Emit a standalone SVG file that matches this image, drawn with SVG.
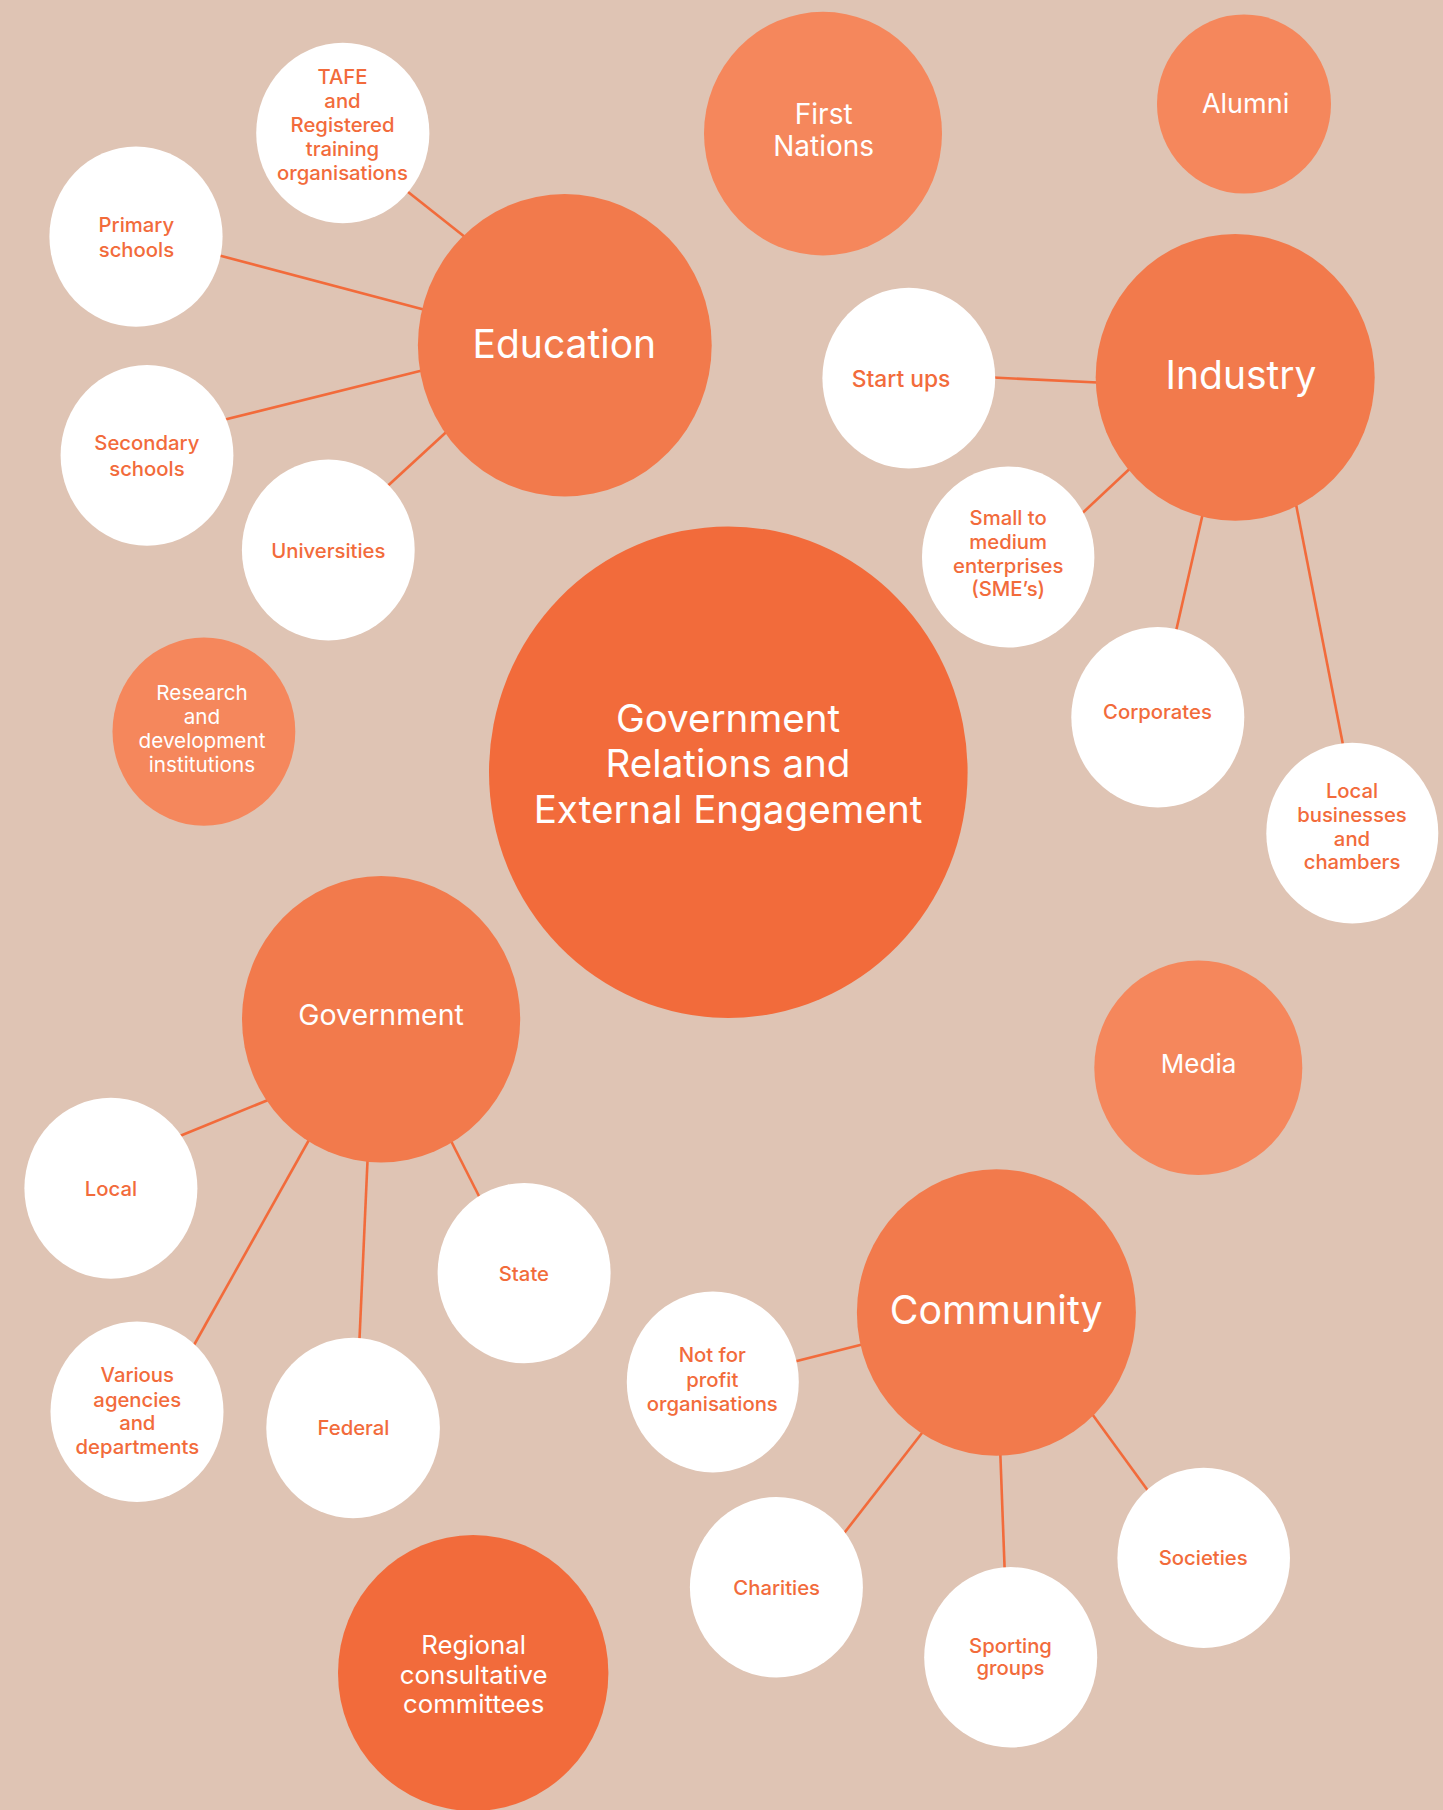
<svg xmlns="http://www.w3.org/2000/svg" width="1443" height="1810" viewBox="0 0 1443 1810">
<style>
.c1{fill:#F26B3B}
.c2{fill:#F27A4C}
.c3{fill:#F5875C}
.w{fill:#FFFFFF}
.lk{stroke:#F26B3B;stroke-width:2.6;fill:none;stroke-linecap:butt}
text{font-family:Inter,"Noto Sans","Liberation Sans",sans-serif;text-anchor:middle}
.tw{fill:#FFFFFF}
.to{fill:#F26B3B;font-size:20.3px;font-weight:500}
.tbig{font-size:39px}
.tmid{font-size:28.5px}
.tsm{font-size:20.7px}
</style>
<rect width="1443" height="1810" fill="#DFC4B4"/>
<g id="connectors">
<line class="lk" x1="398" y1="184" x2="475" y2="245"/>
<line class="lk" x1="210" y1="253" x2="433" y2="312"/>
<line class="lk" x1="215" y1="422" x2="432" y2="368"/>
<line class="lk" x1="380" y1="493" x2="455" y2="424"/>
<line class="lk" x1="983" y1="377" x2="1108" y2="383"/>
<line class="lk" x1="1074" y1="521" x2="1138" y2="461"/>
<line class="lk" x1="1205" y1="504" x2="1174" y2="640"/>
<line class="lk" x1="1294" y1="494" x2="1345" y2="755"/>
<line class="lk" x1="170" y1="1140" x2="278" y2="1096"/>
<line class="lk" x1="189" y1="1354" x2="314" y2="1131"/>
<line class="lk" x1="359" y1="1350" x2="368" y2="1150"/>
<line class="lk" x1="484" y1="1206" x2="447" y2="1133"/>
<line class="lk" x1="785" y1="1364" x2="872" y2="1342"/>
<line class="lk" x1="838" y1="1541" x2="929" y2="1424"/>
<line class="lk" x1="1005" y1="1579" x2="1000" y2="1445"/>
<line class="lk" x1="1154" y1="1499" x2="1087" y2="1407"/>
</g>
<g id="center">
<ellipse class="c1" cx="728.3" cy="772.2" rx="239.3" ry="245.8"/>
<text class="tw" font-size="38.6"><tspan x="728" y="732">Government</tspan><tspan x="728" y="777">Relations and</tspan><tspan x="728" y="823">External Engagement</tspan></text>
</g>
<g id="education">
<ellipse class="c2" cx="564.8" cy="345.2" rx="146.9" ry="151.2"/>
<text class="tw tbig" x="564.3" y="357.5">Education</text>
</g>
<g id="industry">
<ellipse class="c2" cx="1235.2" cy="377.3" rx="139.5" ry="143.4"/>
<text class="tw tbig" x="1241" y="389">Industry</text>
</g>
<g id="government">
<ellipse class="c2" cx="381.1" cy="1019.3" rx="139.1" ry="143.2"/>
<text class="tw tmid" x="381.1" y="1024.5">Government</text>
</g>
<g id="community">
<ellipse class="c2" cx="996.4" cy="1312.5" rx="139.5" ry="143.2"/>
<text class="tw" font-size="39.3" x="996.2" y="1323.5">Community</text>
</g>
<g id="first-nations">
<ellipse class="c3" cx="823" cy="133.6" rx="119" ry="121.8"/>
<text class="tw" font-size="28"><tspan x="823.7" y="123.5">First</tspan><tspan x="823.7" y="155.5">Nations</tspan></text>
</g>
<g id="alumni">
<ellipse class="c3" cx="1244" cy="104" rx="87" ry="89.6"/>
<text class="tw" font-size="27" x="1245.6" y="113.2">Alumni</text>
</g>
<g id="research">
<ellipse class="c3" cx="203.9" cy="731.6" rx="91.4" ry="94.1"/>
<text class="tw tsm"><tspan x="202" y="700.4">Research</tspan><tspan x="202" y="724.3">and</tspan><tspan x="202" y="748.2">development</tspan><tspan x="202" y="772.2">institutions</tspan></text>
</g>
<g id="media">
<ellipse class="c3" cx="1198.3" cy="1067.8" rx="104" ry="107.3"/>
<text class="tw" font-size="26" x="1198.6" y="1072.5">Media</text>
</g>
<g id="regional">
<ellipse class="c1" cx="473.2" cy="1673" rx="135.2" ry="138"/>
<text class="tw" font-size="25.8"><tspan x="473.6" y="1654">Regional</tspan><tspan x="473.6" y="1684">consultative</tspan><tspan x="473.6" y="1713">committees</tspan></text>
</g>
<g id="tafe">
<ellipse class="w" cx="342.8" cy="133" rx="86.6" ry="90.2"/>
<text class="to"><tspan x="342.5" y="84">TAFE</tspan><tspan x="342.5" y="108">and</tspan><tspan x="342.5" y="132">Registered</tspan><tspan x="342.5" y="156">training</tspan><tspan x="342.5" y="180">organisations</tspan></text>
</g>
<g id="primary">
<ellipse class="w" cx="136" cy="236.6" rx="86.6" ry="90.2"/>
<text class="to"><tspan x="136.4" y="232">Primary</tspan><tspan x="136.4" y="257">schools</tspan></text>
</g>
<g id="secondary">
<ellipse class="w" cx="147" cy="455.4" rx="86.4" ry="90.4"/>
<text class="to"><tspan x="146.9" y="450">Secondary</tspan><tspan x="146.9" y="476">schools</tspan></text>
</g>
<g id="universities">
<ellipse class="w" cx="328.3" cy="550" rx="86.4" ry="90.5"/>
<text class="to" x="328.3" y="557.5">Universities</text>
</g>
<g id="start-ups">
<ellipse class="w" cx="908.8" cy="378.2" rx="86.4" ry="90.4"/>
<text class="to" font-size="22.8" style="font-size:22.8px" x="901" y="386.7">Start ups</text>
</g>
<g id="sme">
<ellipse class="w" cx="1008.2" cy="557" rx="86.2" ry="90.6"/>
<text class="to"><tspan x="1008.2" y="525">Small to</tspan><tspan x="1008.2" y="549.3">medium</tspan><tspan x="1008.2" y="572.5">enterprises</tspan><tspan x="1008.2" y="595.7">(SME’s)</tspan></text>
</g>
<g id="corporates">
<ellipse class="w" cx="1157.8" cy="717.3" rx="86.5" ry="90.2"/>
<text class="to" x="1157.5" y="718.9">Corporates</text>
</g>
<g id="local-businesses">
<ellipse class="w" cx="1352.3" cy="833.2" rx="86" ry="90.4"/>
<text class="to"><tspan x="1352" y="797.5">Local</tspan><tspan x="1352" y="821.8">businesses</tspan><tspan x="1352" y="845.7">and</tspan><tspan x="1352" y="869.3">chambers</tspan></text>
</g>
<g id="local">
<ellipse class="w" cx="110.9" cy="1188.3" rx="86.5" ry="90.5"/>
<text class="to" x="110.9" y="1196">Local</text>
</g>
<g id="state">
<ellipse class="w" cx="524.1" cy="1273.1" rx="86.5" ry="90.2"/>
<text class="to" x="523.9" y="1280.5">State</text>
</g>
<g id="various">
<ellipse class="w" cx="137" cy="1411.8" rx="86.5" ry="90.2"/>
<text class="to"><tspan x="137.3" y="1382.3">Various</tspan><tspan x="137.3" y="1406.5">agencies</tspan><tspan x="137.3" y="1430.2">and</tspan><tspan x="137.3" y="1454.4">departments</tspan></text>
</g>
<g id="federal">
<ellipse class="w" cx="353.1" cy="1428" rx="86.8" ry="90.2"/>
<text class="to" x="353.5" y="1435">Federal</text>
</g>
<g id="not-for-profit">
<ellipse class="w" cx="712.8" cy="1382" rx="86" ry="90.4"/>
<text class="to"><tspan x="712.3" y="1362">Not for</tspan><tspan x="712.3" y="1386.5">profit</tspan><tspan x="712.3" y="1411">organisations</tspan></text>
</g>
<g id="charities">
<ellipse class="w" cx="776.4" cy="1587.3" rx="86.5" ry="90.2"/>
<text class="to" x="776.7" y="1594.5">Charities</text>
</g>
<g id="sporting">
<ellipse class="w" cx="1010.7" cy="1657.3" rx="86.5" ry="90.2"/>
<text class="to"><tspan x="1010.5" y="1652.5">Sporting</tspan><tspan x="1010.5" y="1675.3">groups</tspan></text>
</g>
<g id="societies">
<ellipse class="w" cx="1203.7" cy="1557.9" rx="86.3" ry="90.2"/>
<text class="to" x="1203.2" y="1564.5">Societies</text>
</g>
</svg>
